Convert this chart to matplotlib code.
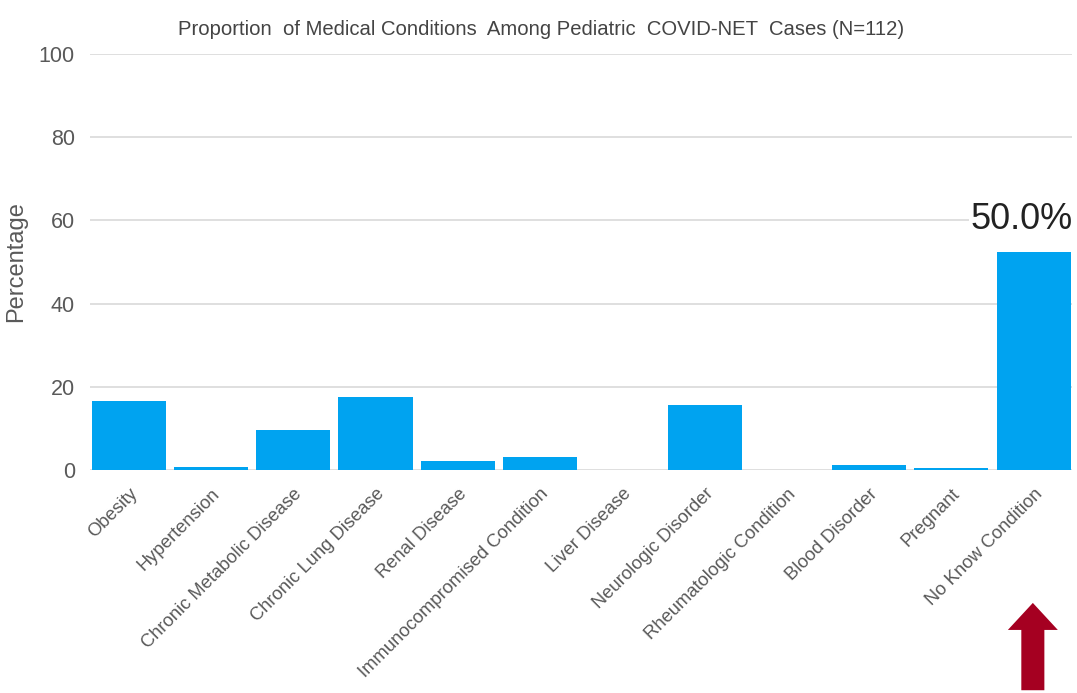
import numpy as np
import matplotlib
matplotlib.use("Agg")
import matplotlib.pyplot as plt
from matplotlib.patches import Polygon

plt.rcParams['font.family'] = ['Liberation Sans', 'DejaVu Sans']

##############Data######################################################
categories = ["Obesity", "Hypertension", "Chronic Metabolic Disease", "Chronic Lung Disease",
              "Renal Disease", "Immunocompromised Condition", "Liver Disease", "Neurologic Disorder",
              "Rheumatologic Condition", "Blood Disorder", "Pregnant", "No Know Condition"]
percent = [16.6, 0.6, 9.6, 17.5, 2.2, 3.2, 0.0, 15.6, 0.0, 1.3, 0.5, 52.4]
y_ticks = [0, 20, 40, 60, 80, 100]
subtitle = "Proportion  of Medical Conditions  Among Pediatric  COVID-NET  Cases (N=112)"
callout = "50.0%"

##############Style#####################################################
bar_color = "#00a3f0"
grid_color = "#d9d9d9"
text_gray = "#595959"
arrow_red = "#a50021"

fig = plt.figure(figsize=(10.77, 6.93), dpi=100)
ax = fig.add_axes([0.0836, 0.3218, 0.912, 0.6004])

x = np.arange(len(categories))
ax.bar(x, percent, width=0.9, color=bar_color, zorder=2)

ax.set_ylim(0, 100)
ax.set_xlim(-0.47, len(categories) - 0.53)
ax.set_yticks(y_ticks)
ax.set_yticklabels([str(t) for t in y_ticks], fontsize=15.5, color=text_gray)
ax.yaxis.grid(True, color=grid_color, linewidth=1.2, zorder=0)
ax.set_axisbelow(True)
ax.tick_params(axis='y', length=0, pad=11)
ax.tick_params(axis='x', length=0, pad=11)
for s in ax.spines.values():
    s.set_visible(False)

ax.set_xticks(x)
ax.set_xticklabels(categories, rotation=45, ha='right', va='top',
                   rotation_mode='anchor', fontsize=13.2, color=text_gray)
ax.set_ylabel("Percentage", fontsize=17, color=text_gray, labelpad=8)

ax.text(len(categories) - 0.53, 58.0, callout, ha='right', va='baseline',
        fontsize=26, color='#222222', zorder=3,
        bbox=dict(facecolor='white', edgecolor='none', pad=1))

fig.text(0.502, 0.957, subtitle, ha='center', va='center', fontsize=14.6, color='#444444')

# red arrow below the last bar
cx = 0.959
arrow = Polygon([[cx - 0.0107, 0.004], [cx + 0.0107, 0.004], [cx + 0.0107, 0.091],
                 [cx + 0.0232, 0.091], [cx, 0.130], [cx - 0.0232, 0.091],
                 [cx - 0.0107, 0.091]], closed=True, transform=fig.transFigure,
                facecolor=arrow_red, edgecolor='none')
fig.patches.append(arrow)

fig.savefig("out.png", dpi=100)
